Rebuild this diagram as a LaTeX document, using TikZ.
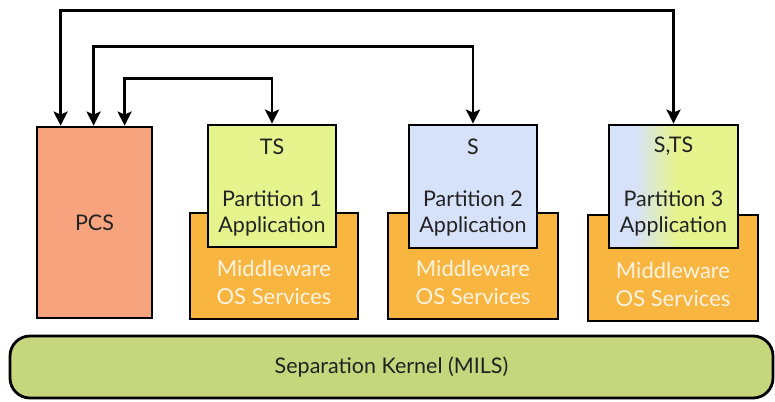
\documentclass[tikz,border=0pt]{standalone}
\usepackage{fontspec}
\setmainfont{Lato}
\usetikzlibrary{arrows.meta,calc}
\definecolor{pcsfill}{HTML}{F7A47E}
\definecolor{tsfill}{HTML}{E6F48E}
\definecolor{sfill}{HTML}{D6E1FA}
\definecolor{mwfill}{HTML}{F8B540}
\definecolor{mwtext}{HTML}{FFF3E2}
\definecolor{kfill}{HTML}{C6D67C}
\definecolor{ink}{HTML}{222222}
% mixed S / TS level: blue on the left, yellow-green on the right
\pgfdeclarehorizontalshading{stsshade}{100bp}{color(0bp)=(sfill); color(25bp)=(sfill);
  color(35bp)=(sfill); color(51bp)=(tsfill); color(75bp)=(tsfill); color(100bp)=(tsfill)}
\tikzset{
  box/.style={draw=black, line width=2.8pt, inner sep=0pt},
  lbl/.style={text=ink, font=\fontsize{21.5}{26}\selectfont, align=center, inner sep=0pt},
  mwlbl/.style={text=mwtext, font=\fontsize{22}{28}\selectfont, align=center, inner sep=0pt},
  flow/.style={draw=black, line width=2.8pt,
    {Stealth[length=14pt,width=14pt,inset=3pt]}-{Stealth[length=14pt,width=14pt,inset=3pt]}},
}
\begin{document}
\begin{tikzpicture}[x=1pt,y=-1pt]
\useasboundingbox[fill=white] (0,0) rectangle (775,401);

% separation kernel
\node[box, fill=kfill, rounded corners=20pt, minimum width=763pt, minimum height=62pt]
  (kernel) at (391.5,367) {};
\node[lbl] (kerneltxt) at (kernel.center) {Separation Kernel (MILS)};

% PCS
\node[box, fill=pcsfill, minimum width=115pt, minimum height=191pt] (pcs) at (94.5,222.5) {};
\node[lbl] (pcstxt) at (pcs.center) {PCS};

% middleware layers
\node[box, fill=mwfill, minimum width=168pt, minimum height=106pt] (mw1) at (274,266) {};
\node[box, fill=mwfill, minimum width=170pt, minimum height=106pt] (mw2) at (473,266) {};
\node[box, fill=mwfill, minimum width=170pt, minimum height=106pt] (mw3) at (673,268) {};
\node[mwlbl] (mw1txt) at ($(mw1.south)+(0,-38)$) {Middleware\\OS Services};
\node[mwlbl] (mw2txt) at ($(mw2.south)+(0,-38)$) {Middleware\\OS Services};
\node[mwlbl] (mw3txt) at ($(mw3.south)+(0,-38)$) {Middleware\\OS Services};

% partition applications
\node[box, fill=tsfill, minimum width=128pt, minimum height=122pt] (app1) at (272,186) {};
\node[box, fill=sfill, minimum width=128pt, minimum height=123pt] (app2) at (473,186.5) {};
\node[box, shading=stsshade, minimum width=129pt, minimum height=123pt] (app3) at (673.5,186.5) {};

\node[lbl] (app1lvl) at ($(app1.north)+(0,23)$) {TS};
\node[lbl] (app2lvl) at ($(app2.north)+(0,23)$) {S};
\node[lbl] (app3lvl) at ($(app3.north)+(0,23)$) {S,TS};
\node[lbl] (app1txt) at ($(app1.north)+(0,90)$) {Partition 1\\Application};
\node[lbl] (app2txt) at ($(app2.north)+(0,90)$) {Partition 2\\Application};
\node[lbl] (app3txt) at ($(app3.north)+(0,90)$) {Partition 3\\Application};

% communication paths between PCS and partitions
\draw[flow] (app3.north) -- ++(0,-113) -| ([xshift=25pt]pcs.north west);
\draw[flow] (app2.north) -- ++(0,-77) -| ([xshift=58pt]pcs.north west);
\draw[flow] (app1.north) -- ++(0,-45) -| ([xshift=89pt]pcs.north west);
\end{tikzpicture}
\end{document}
